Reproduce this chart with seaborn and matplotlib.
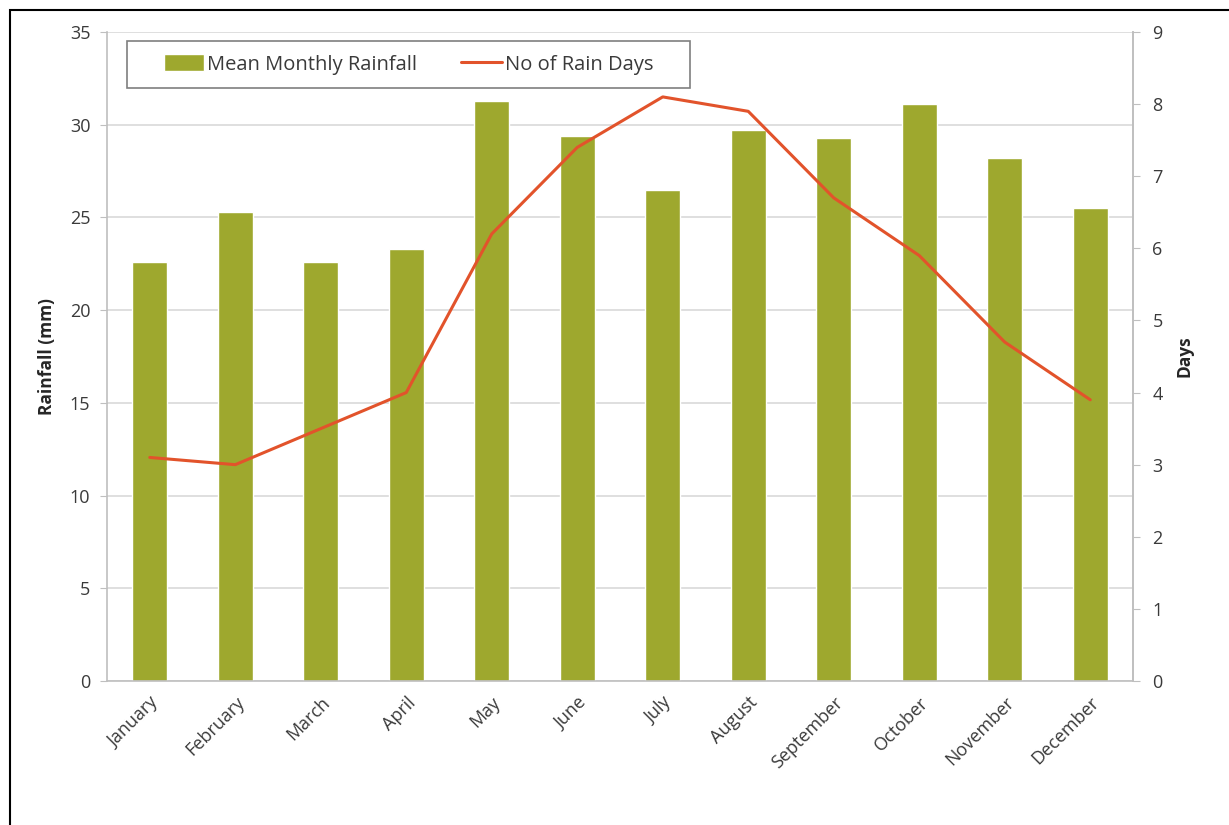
import numpy as np
import pandas as pd
import seaborn as sns
import matplotlib.pyplot as plt
from matplotlib.patches import Rectangle

# Monthly rainfall and rain days
months = ["January", "February", "March", "April", "May", "June",
          "July", "August", "September", "October", "November", "December"]
rainfall = [22.6, 25.3, 22.6, 23.3, 31.3, 29.4, 26.5, 29.7, 29.3, 31.1, 28.2, 25.5]
rain_days = [3.1, 3.0, 3.5, 4.0, 6.2, 7.4, 8.1, 7.9, 6.7, 5.9, 4.7, 3.9]

df = pd.DataFrame({"month": months, "rainfall": rainfall, "days": rain_days,
                   "pos": np.arange(len(months))})

bar_color = "#9EA82E"
line_color = "#E2532B"
grid_color = "#D9D9D9"
text_color = "#3A3A3A"

sns.set_style("white")
plt.rcParams["font.family"] = ["Open Sans", "DejaVu Sans"]

fig = plt.figure(figsize=(12.29, 8.25), dpi=100)
ax = fig.add_axes([107 / 1229, 1 - 681 / 825, (1133 - 107) / 1229, (681 - 32) / 825])

sns.barplot(data=df, x="month", y="rainfall", color=bar_color, saturation=1,
            width=0.41, ax=ax, label="Mean Monthly Rainfall", zorder=2)
ax.set_xlim(-0.5, len(months) - 0.5)
ax.set_ylim(0, 35)
ax.set_yticks(np.arange(0, 36, 5))
ax.yaxis.grid(True, color=grid_color, lw=1.2, zorder=0)
ax.set_axisbelow(True)

ax.set_xticks(np.arange(len(months)))
ax.set_xticklabels(months, rotation=45, ha="right", rotation_mode="anchor",
                   fontsize=13, color=text_color)
ax.tick_params(axis="x", length=0, pad=9)
# tick marks between categories
ax.set_xticks(np.arange(-0.5, len(months)), minor=True)
ax.tick_params(axis="x", which="minor", length=5, color="#BFBFBF", width=1)
ax.tick_params(axis="y", length=5, color="#BFBFBF", labelsize=13,
               labelcolor=text_color, pad=7)
ax.set_xlabel("")
ax.set_ylabel("Rainfall (mm)", fontsize=12.5, fontweight="bold", labelpad=10)

ax.spines["top"].set_visible(False)
for side in ["left", "bottom", "right"]:
    ax.spines[side].set_color("#BFBFBF")
    ax.spines[side].set_linewidth(1.2)

ax2 = ax.twinx()
sns.lineplot(data=df, x="pos", y="days", color=line_color, lw=2.2, ax=ax2,
             label="No of Rain Days")
ax2.set_ylim(0, 9)
ax2.set_yticks(np.arange(0, 10, 1))
ax2.tick_params(axis="y", length=5, color="#BFBFBF", labelsize=13,
                labelcolor=text_color, pad=9)
ax2.set_ylabel("Days", fontsize=12.5, fontweight="bold", labelpad=9)
ax2.set_xlabel("")
for side in ["top", "left", "bottom"]:
    ax2.spines[side].set_visible(False)
ax2.spines["right"].set_color("#BFBFBF")
ax2.spines["right"].set_linewidth(1.2)

# legend: frame drawn separately so its size matches the original box
lx, ly, lw_, lh = 0.0195, (681 - 88) / 649, 563 / 1026, 47 / 649
ax2.add_patch(Rectangle((lx, ly), lw_, lh, transform=ax2.transAxes,
                        facecolor="white", edgecolor="#7F7F7F", lw=1.2,
                        zorder=4))
h1, l1 = ax.get_legend_handles_labels()
h2, l2 = ax2.get_legend_handles_labels()
if ax.get_legend() is not None:
    ax.get_legend().remove()
leg = ax2.legend(h1 + h2, l1 + l2, ncol=2, loc="center",
                 bbox_to_anchor=(lx + lw_ / 2, ly + lh / 2), fontsize=14.5,
                 frameon=False, handlelength=2.0, handleheight=0.9,
                 handletextpad=0.15, columnspacing=2.2, borderpad=0)
leg.set_zorder(5)
for t in leg.get_texts():
    t.set_color(text_color)

# outer frame of the original figure (only top and left edges show)
fig.patches.append(Rectangle((10 / 1229, -0.1), 1.5, 1 - 10 / 825 + 0.1,
                             transform=fig.transFigure, fill=False,
                             edgecolor="black", lw=1.5))

fig.savefig("out.png", dpi=100)
